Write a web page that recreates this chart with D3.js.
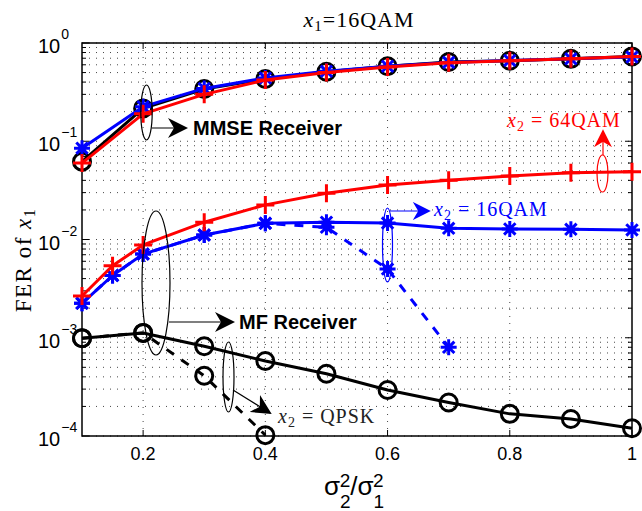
<!DOCTYPE html>
<head>
<meta charset="utf-8">
<title>FER of x1</title>
<script type="text/javascript" src="https://d3js.org/d3.v7.min.js"></script>
<style>
    body { margin: 0; background: #fff; }
    .tick-label { font-family: "Liberation Sans", Arial, sans-serif; font-size: 18px; fill: #000; }
    .serif { font-family: "Liberation Serif", "Times New Roman", serif; }
    .grid line { stroke: #333; stroke-width: 0.9; stroke-dasharray: 1,6; }
    .line { fill: none; stroke-width: 3; stroke-linejoin: round; }
    .dash { stroke-dasharray: 9,9; }
</style>
</head>
<body>
<div id="container"></div>
<script>
//-----------------------------DATA-----------------------------//
var xMmse = [0.1, 0.2, 0.3, 0.4, 0.5, 0.6, 0.7, 0.8, 0.9, 1.0];
var mmseQpsk = [0.062, 0.216, 0.34, 0.43, 0.51, 0.58, 0.64, 0.66, 0.69, 0.73];
var mmse16 = [0.085, 0.225, 0.345, 0.44, 0.515, 0.58, 0.635, 0.665, 0.69, 0.72];
var mmse64 = [0.060, 0.19, 0.30, 0.42, 0.50, 0.57, 0.63, 0.66, 0.69, 0.73];

var xMfQpsk = [0.1, 0.2, 0.3, 0.4, 0.5, 0.6, 0.7, 0.8, 0.9, 1.0];
var mfQpsk = [0.00099, 0.00112, 0.00082, 0.00058, 0.00043, 0.000294, 0.000219, 0.000168, 0.000149, 0.00012];
var xMfQpskDash = [0.1, 0.2, 0.3, 0.4];
var mfQpskDash = [0.00099, 0.00112, 0.00041, 0.000102];

var xMf = [0.1, 0.15, 0.2, 0.3, 0.4, 0.5, 0.6, 0.7, 0.8, 0.9, 1.0];
var mf16 = [0.00224, 0.0043, 0.0071, 0.0111, 0.0146, 0.0150, 0.0147, 0.0130, 0.0128, 0.0127, 0.0125];
var mf64 = [0.00266, 0.0054, 0.0088, 0.0150, 0.0225, 0.0295, 0.0359, 0.0400, 0.0443, 0.0478, 0.049];
var xMf16Dash = [0.1, 0.15, 0.2, 0.3, 0.4, 0.5, 0.6, 0.7];
var mf16Dash = [0.00224, 0.0043, 0.0071, 0.0111, 0.0146, 0.0133, 0.0050, 0.0008];

var xTicks = [0.2, 0.4, 0.6, 0.8, 1];
var yExponents = [0, -1, -2, -3, -4];

//-----------------------------SVG------------------------------//
var margin = {top: 43, right: 10, bottom: 75, left: 82};
var width = 550, height = 393;

var root = d3.select("#container").append("svg")
    .attr("width", 642)
    .attr("height", 511);
var svg = root.append("g")
    .attr("transform", "translate(" + margin.left + "," + margin.top + ")");

//----------------------------SCALES----------------------------//
var x = d3.scaleLinear().domain([0.1, 1]).range([0, width]);
var y = d3.scaleLog().domain([1e-4, 1]).range([height, 0]);

// minor log ticks 1..9 x 10^k
var yMinor = [];
for (var k = -4; k < 0; k++) {
    for (var m = 1; m < 10; m++) yMinor.push(m * Math.pow(10, k));
}
yMinor.push(1);

//-----------------------------GRID-----------------------------//
var grid = svg.append("g").attr("class", "grid");
grid.selectAll(".hg").data(yMinor).enter().append("line")
    .attr("x1", 0).attr("x2", width)
    .attr("y1", function(d) { return y(d); }).attr("y2", function(d) { return y(d); });
grid.selectAll(".vg").data(xTicks.slice(0, 4)).enter().append("line")
    .attr("y1", 0).attr("y2", height)
    .attr("x1", function(d) { return x(d); }).attr("x2", function(d) { return x(d); });

//-----------------------------AXES-----------------------------//
var box = svg.append("g");
box.append("rect").attr("width", width).attr("height", height)
    .attr("fill", "none").attr("stroke", "#000").attr("stroke-width", 1.5);

// y ticks (inside, left + right)
box.selectAll(".yt").data(yMinor).enter().append("path")
    .attr("stroke", "#000").attr("stroke-width", 1)
    .attr("d", function(d) {
        var major = Math.abs(Math.log10(d) - Math.round(Math.log10(d))) < 1e-9;
        var len = major ? 7 : 4;
        return "M0," + y(d) + "h" + len + "M" + width + "," + y(d) + "h" + (-len);
    });
// x ticks (inside, bottom + top)
box.selectAll(".xt").data(xTicks).enter().append("path")
    .attr("stroke", "#000").attr("stroke-width", 1)
    .attr("d", function(d) {
        return "M" + x(d) + "," + height + "v-6M" + x(d) + ",0v6";
    });

// x tick labels
svg.selectAll(".xl").data(xTicks).enter().append("text")
    .attr("class", "tick-label")
    .attr("x", function(d) { return x(d); })
    .attr("y", height + 24)
    .attr("text-anchor", "middle")
    .text(function(d) { return d3.format("")(d); });

// y tick labels 10^k
var yl = svg.selectAll(".yl").data(yExponents).enter().append("text")
    .attr("class", "tick-label")
    .style("font-size", "20px")
    .attr("x", -44)
    .attr("y", function(d) { return y(Math.pow(10, d)) + 10; });
yl.append("tspan").text("10");
yl.append("tspan").attr("dy", -14).attr("dx", 1).style("font-size", "14px")
    .text(function(d) { return d === 0 ? "0" : "\u2212" + Math.abs(d); });

//----------------------------LINES-----------------------------//
function zipPts(xs, ys) {
    return xs.map(function(v, i) { return [v, ys[i]]; });
}
var valueline = d3.line()
    .x(function(d) { return x(d[0]); })
    .y(function(d) { return y(d[1]); });

var circleSym = function(g, pts, color) {
    g.selectAll(null).data(pts).enter().append("circle")
        .attr("cx", function(d) { return x(d[0]); })
        .attr("cy", function(d) { return y(d[1]); })
        .attr("r", 8.5)
        .attr("fill", "none").attr("stroke", color).attr("stroke-width", 3);
};
var starSym = function(g, pts, color) {
    var a = 8, b = 5.7;
    g.selectAll(null).data(pts).enter().append("path")
        .attr("transform", function(d) { return "translate(" + x(d[0]) + "," + y(d[1]) + ")"; })
        .attr("d", "M" + (-a) + ",0H" + a + "M0," + (-a) + "V" + a +
                   "M" + (-b) + "," + (-b) + "L" + b + "," + b + "M" + (-b) + "," + b + "L" + b + "," + (-b))
        .attr("stroke", color).attr("stroke-width", 3);
};
var plusSym = function(g, pts, color) {
    var a = 9;
    g.selectAll(null).data(pts).enter().append("path")
        .attr("transform", function(d) { return "translate(" + x(d[0]) + "," + y(d[1]) + ")"; })
        .attr("d", "M" + (-a) + ",0H" + a + "M0," + (-a) + "V" + a)
        .attr("stroke", color).attr("stroke-width", 3);
};

function series(xs, ys, color, sym, dashed) {
    var pts = zipPts(xs, ys);
    var g = svg.append("g");
    g.append("path").datum(pts)
        .attr("class", "line" + (dashed ? " dash" : ""))
        .attr("stroke", color)
        .attr("d", valueline);
    sym(g, pts, color);
}

// MF receiver
series(xMfQpskDash, mfQpskDash, "#000", circleSym, true);
series(xMfQpsk, mfQpsk, "#000", circleSym, false);
series(xMf16Dash, mf16Dash, "#0000ff", starSym, true);
series(xMf, mf16, "#0000ff", starSym, false);
series(xMf, mf64, "#ff0000", plusSym, false);
// MMSE receiver
series(xMmse, mmseQpsk, "#000", circleSym, false);
series(xMmse, mmse16, "#0000ff", starSym, false);
series(xMmse, mmse64, "#ff0000", plusSym, false);

//--------------------------ANNOTATIONS-------------------------//
var defs = root.append("defs");
["#000", "#0000ff", "#ff0000"].forEach(function(c, i) {
    defs.append("marker").attr("id", "arr" + i)
        .attr("viewBox", "0 0 10 10").attr("refX", 9).attr("refY", 5)
        .attr("markerWidth", 10).attr("markerHeight", 10)
        .attr("markerUnits", "userSpaceOnUse")
        .attr("orient", "auto")
        .append("path").attr("d", "M0,0L10,5L0,10L3,5Z").attr("fill", c);
});

var ann = root.append("g");
function ellipse(cx, cy, rx, ry, c) {
    ann.append("ellipse").attr("cx", cx).attr("cy", cy).attr("rx", rx).attr("ry", ry)
        .attr("fill", "none").attr("stroke", c).attr("stroke-width", 1.2);
}
function arrow(x1, y1, x2, y2, c, i, size) {
    ann.append("line").attr("x1", x1).attr("y1", y1).attr("x2", x2).attr("y2", y2)
        .attr("stroke", c).attr("stroke-width", 1.2)
        .attr("marker-end", "url(#arr" + i + ")");
    d3.select("#arr" + i).attr("markerWidth", size).attr("markerHeight", size);
}
function x2Label(tx, ty, label, c, fs) {
    var t = ann.append("text").attr("class", "serif").attr("x", tx).attr("y", ty)
        .attr("fill", c).style("font-size", fs + "px").style("letter-spacing", "1px");
    t.append("tspan").style("font-style", "italic").text("x");
    t.append("tspan").attr("dy", 4).style("font-size", (fs * 0.7) + "px").text("2");
    t.append("tspan").attr("dy", -4).text(" = " + label);
}

// MMSE
ellipse(146.5, 112.5, 5.7, 27.5, "#000");
arrow(152, 128, 186, 128, "#000", 0, 20);
ann.append("text").attr("x", 193).attr("y", 135)
    .style("font-family", "Liberation Sans, Arial, sans-serif").style("font-weight", "bold")
    .style("font-size", "20px").text("MMSE Receiver");

// MF
ellipse(156, 283, 14, 72, "#000");
arrow(169, 322, 233, 322, "#000", 0, 20);
ann.append("text").attr("x", 239).attr("y", 329)
    .style("font-family", "Liberation Sans, Arial, sans-serif").style("font-weight", "bold")
    .style("font-size", "20px").text("MF Receiver");

// QPSK
ellipse(228.5, 377, 5.5, 35, "#000");
arrow(233, 390, 270, 413, "#000", 0, 20);
x2Label(278, 423, "QPSK", "#222", 20);

// 16QAM
ellipse(387.5, 245, 5, 37, "#0000ff");
arrow(390, 211, 429, 211, "#0000ff", 1, 18);
x2Label(434, 216, "16QAM", "#0000ff", 20);

// 64QAM
ellipse(602.5, 173.5, 5.5, 18.5, "#ff0000");
arrow(603, 155, 603, 131, "#ff0000", 2, 18);
x2Label(507, 127, "64QAM", "#ff0000", 20);

//----------------------------TITLES----------------------------//
var title = root.append("text").attr("class", "serif")
    .attr("x", 359).attr("y", 27).attr("text-anchor", "middle")
    .style("font-size", "22px").style("letter-spacing", "1px");
title.append("tspan").style("font-style", "italic").text("x");
title.append("tspan").attr("dy", 4).style("font-size", "15px").text("1");
title.append("tspan").attr("dy", -4).text("=16QAM");

var ylab = root.append("text").attr("class", "serif")
    .attr("transform", "translate(31,260) rotate(-90)")
    .attr("text-anchor", "middle")
    .style("font-size", "23px").style("letter-spacing", "1.5px");
ylab.append("tspan").text("FER of ");
ylab.append("tspan").style("font-style", "italic").text("x");
ylab.append("tspan").attr("dy", 4).style("font-size", "16px").text("1");

var xlab = root.append("text")
    .attr("x", 324).attr("y", 495)
    .style("font-family", "Liberation Sans, Arial, sans-serif")
    .style("font-size", "26px");
xlab.append("tspan").text("\u03c3");
xlab.append("tspan").attr("dy", 13).style("font-size", "19px").text("2");
xlab.append("tspan").attr("dy", -21).attr("dx", -11).style("font-size", "19px").text("2");
xlab.append("tspan").attr("dy", 8).text("/\u03c3");
xlab.append("tspan").attr("dy", 13).style("font-size", "19px").text("1");
xlab.append("tspan").attr("dy", -21).attr("dx", -11).style("font-size", "19px").text("2");
</script>
</body>
